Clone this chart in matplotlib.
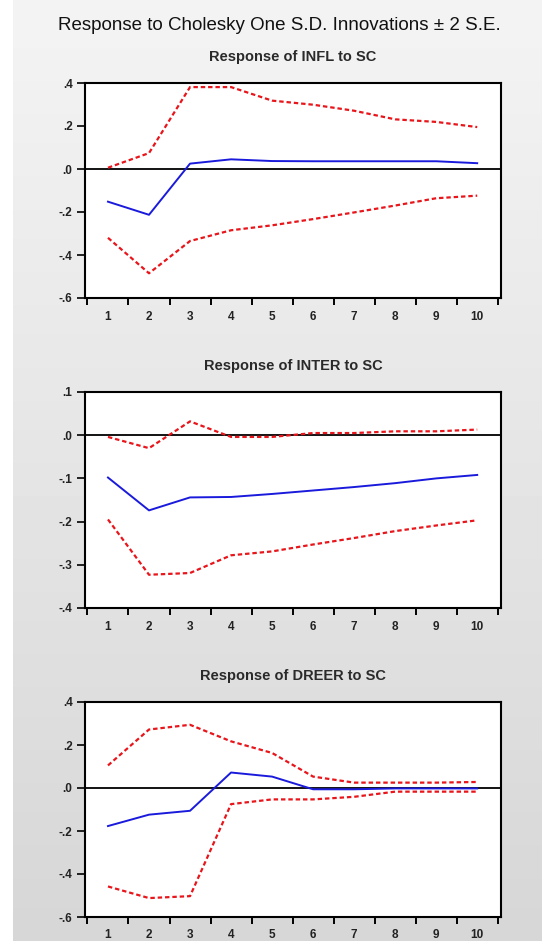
import numpy as np
import matplotlib
matplotlib.use("Agg")
import matplotlib.pyplot as plt
from matplotlib.ticker import FuncFormatter

plt.rcParams['font.family'] = ['Liberation Sans', 'DejaVu Sans']

# periods
periods = [1, 2, 3, 4, 5, 6, 7, 8, 9, 10]

# response of INFL to SC
infl_resp = [-0.152, -0.213, 0.025, 0.045, 0.037, 0.036, 0.036, 0.036, 0.036, 0.027]
infl_upper = [0.006, 0.074, 0.381, 0.381, 0.318, 0.299, 0.271, 0.231, 0.219, 0.195]
infl_lower = [-0.32, -0.485, -0.335, -0.285, -0.262, -0.233, -0.202, -0.17, -0.136, -0.124]

# response of INTER to SC
inter_resp = [-0.098, -0.174, -0.144, -0.143, -0.136, -0.128, -0.120, -0.111, -0.100, -0.092]
inter_upper = [-0.004, -0.030, 0.032, -0.004, -0.004, 0.005, 0.005, 0.009, 0.009, 0.013]
inter_lower = [-0.195, -0.323, -0.319, -0.278, -0.269, -0.253, -0.238, -0.222, -0.209, -0.197]

# response of DREER to SC
dreer_resp = [-0.177, -0.124, -0.106, 0.072, 0.053, -0.006, -0.006, -0.002, -0.002, -0.002]
dreer_upper = [0.105, 0.272, 0.294, 0.217, 0.163, 0.053, 0.025, 0.025, 0.025, 0.028]
dreer_lower = [-0.458, -0.512, -0.503, -0.075, -0.053, -0.053, -0.041, -0.017, -0.017, -0.017]

panels = [
    ("Response of INFL to SC", infl_resp, infl_upper, infl_lower, (-0.6, 0.4), [-0.6, -0.4, -0.2, 0.0, 0.2, 0.4]),
    ("Response of INTER to SC", inter_resp, inter_upper, inter_lower, (-0.4, 0.1), [-0.4, -0.3, -0.2, -0.1, 0.0, 0.1]),
    ("Response of DREER to SC", dreer_resp, dreer_upper, dreer_lower, (-0.6, 0.4), [-0.6, -0.4, -0.2, 0.0, 0.2, 0.4]),
]

W, H = 542, 941
fig = plt.figure(figsize=(W / 100, H / 100), dpi=100, facecolor='white')

# gray gradient background
bg = fig.add_axes([13 / W, 0, 1 - 13 / W, 1], zorder=-10)
grad = np.linspace(0.955, 0.84, 256).reshape(-1, 1)
bg.imshow(grad, aspect='auto', cmap='gray', vmin=0, vmax=1, extent=[0, 1, 0, 1])
bg.axis('off')

fig.text(279 / W, 1 - 26 / H, "Response to Cholesky One S.D. Innovations \u00b1 2 S.E.",
         ha='center', va='center', fontsize=13.5, color='#111111')


def fmt(v, pos):
    s = "%.1f" % v
    if s == "-0.0":
        s = "0.0"
    return s.replace("0.", ".", 1)


boxes = [(83, 298), (392, 608), (702, 917)]
for (title, resp, up, lo, ylim, yticks), (top, bot) in zip(panels, boxes):
    ax = fig.add_axes([85 / W, 1 - bot / H, 416 / W, (bot - top) / H])
    ax.set_facecolor('white')
    ax.axhline(0, color='black', lw=1.3, zorder=1)
    ax.plot(periods, up, color='#e8151b', lw=1.6, linestyle=(0, (2.0, 1.3)), zorder=2)
    ax.plot(periods, lo, color='#e8151b', lw=1.6, linestyle=(0, (2.0, 1.3)), zorder=2)
    ax.plot(periods, resp, color='#1a1adc', lw=1.4, zorder=3)
    ax.set_xlim(0.44, 10.58)
    ax.set_ylim(*ylim)
    ax.set_yticks(yticks)
    ax.yaxis.set_major_formatter(FuncFormatter(fmt))
    ax.set_xticks(np.arange(0.5, 11, 1.0))
    ax.set_xticklabels([])
    ax.set_xticks(periods, minor=True)
    ax.set_xticklabels([str(p) for p in periods], minor=True)
    ax.tick_params(axis='x', which='major', direction='out', length=5, width=1.4)
    ax.tick_params(axis='x', which='minor', length=0, pad=9, labelsize=8.5)
    ax.tick_params(axis='y', direction='out', length=6, width=1.2, pad=3, labelsize=8.5)
    for lab in ax.get_xticklabels(minor=True) + ax.get_yticklabels():
        lab.set_fontweight('bold')
        lab.set_color('#222222')
    for sp in ax.spines.values():
        sp.set_linewidth(1.5)
    ax.set_title(title, fontsize=10.5, fontweight='bold', color='#2a2a2a', pad=16)

fig.savefig("out.png", dpi=100, facecolor=fig.get_facecolor())
